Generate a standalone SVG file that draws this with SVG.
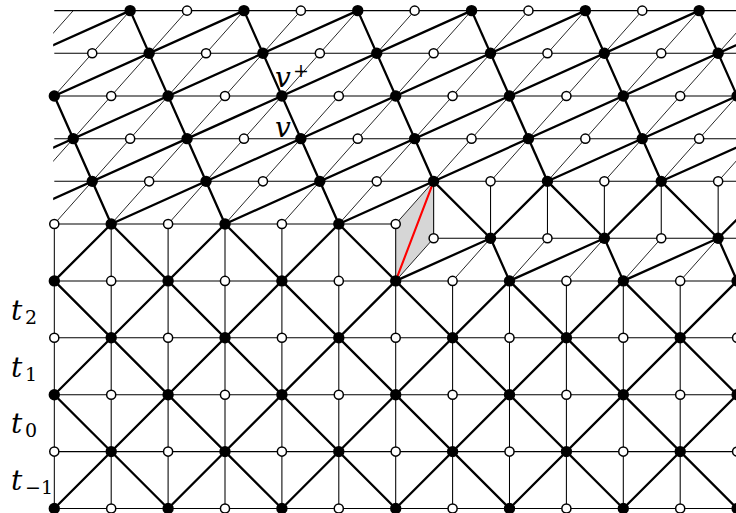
<svg xmlns="http://www.w3.org/2000/svg" width="736" height="513" viewBox="0 0 736 513">
<style>
.t{stroke:#000;stroke-width:1.05;vector-effect:non-scaling-stroke;fill:none}
.d{stroke:#000;stroke-width:0.85;vector-effect:non-scaling-stroke}
.k{stroke:#000;stroke-width:2.3;vector-effect:non-scaling-stroke;stroke-linecap:round}
.r{stroke:#f00;stroke-width:2.1;vector-effect:non-scaling-stroke;stroke-linecap:round}
.f{fill:#000}
.o{fill:#fff;stroke:#000;stroke-width:1.5;vector-effect:non-scaling-stroke}
text{font-family:"DejaVu Serif","Liberation Serif",serif;fill:#000}
.lab{font-size:28px;font-style:italic}
.sub{font-size:19px;font-style:normal}
</style>
<defs>
<clipPath id="cp" clipPathUnits="userSpaceOnUse"><rect x="-0.02" y="-3.8" width="14" height="9"/></clipPath>
</defs>
<g transform="matrix(56.9 0 0 56.9 54.3 224)">
<polygon id="cell" points="6,0 6.667,-0.75 6.667,0.25 6,1" fill="#d6d6d6"/>
<g id="connectors" clip-path="url(#cp)">
<line class="t" x1="0" y1="-3.75" x2="13" y2="-3.75"/>
<line class="t" x1="0" y1="-3" x2="13" y2="-3"/>
<line class="t" x1="0" y1="-2.25" x2="13" y2="-2.25"/>
<line class="t" x1="0" y1="-1.5" x2="13" y2="-1.5"/>
<line class="t" x1="0" y1="-0.75" x2="13" y2="-0.75"/>
<line class="t" x1="0" y1="0" x2="6" y2="0"/>
<line class="t" x1="6.667" y1="0.25" x2="13" y2="0.25"/>
<line class="t" x1="0" y1="1" x2="13" y2="1"/>
<line class="t" x1="0" y1="2" x2="13" y2="2"/>
<line class="t" x1="0" y1="3" x2="13" y2="3"/>
<line class="t" x1="0" y1="4" x2="13" y2="4"/>
<line class="t" x1="0" y1="5" x2="13" y2="5"/>
<line class="t" x1="0" y1="0" x2="0" y2="5"/>
<line class="t" x1="1" y1="0" x2="1" y2="5"/>
<line class="t" x1="2" y1="0" x2="2" y2="5"/>
<line class="t" x1="3" y1="0" x2="3" y2="5"/>
<line class="t" x1="4" y1="0" x2="4" y2="5"/>
<line class="t" x1="5" y1="0" x2="5" y2="5"/>
<line class="t" x1="6" y1="0" x2="6" y2="5"/>
<line class="t" x1="7" y1="1" x2="7" y2="5"/>
<line class="t" x1="8" y1="1" x2="8" y2="5"/>
<line class="t" x1="9" y1="1" x2="9" y2="5"/>
<line class="t" x1="10" y1="1" x2="10" y2="5"/>
<line class="t" x1="11" y1="1" x2="11" y2="5"/>
<line class="t" x1="12" y1="1" x2="12" y2="5"/>
<line class="t" x1="6.667" y1="-0.75" x2="6.667" y2="0.25"/>
<line class="t" x1="7.667" y1="-0.75" x2="7.667" y2="0.25"/>
<line class="t" x1="8.667" y1="-0.75" x2="8.667" y2="0.25"/>
<line class="t" x1="9.667" y1="-0.75" x2="9.667" y2="0.25"/>
<line class="t" x1="10.667" y1="-0.75" x2="10.667" y2="0.25"/>
<line class="t" x1="11.667" y1="-0.75" x2="11.667" y2="0.25"/>
<line class="d" x1="-3" y1="0" x2="0.333" y2="-3.75"/>
<line class="d" x1="-2" y1="0" x2="1.333" y2="-3.75"/>
<line class="d" x1="-1" y1="0" x2="2.333" y2="-3.75"/>
<line class="d" x1="0" y1="0" x2="3.333" y2="-3.75"/>
<line class="d" x1="1" y1="0" x2="4.333" y2="-3.75"/>
<line class="d" x1="2" y1="0" x2="5.333" y2="-3.75"/>
<line class="d" x1="3" y1="0" x2="6.333" y2="-3.75"/>
<line class="d" x1="4" y1="0" x2="7.333" y2="-3.75"/>
<line class="d" x1="5" y1="0" x2="8.333" y2="-3.75"/>
<line class="d" x1="6" y1="0" x2="9.333" y2="-3.75"/>
<line class="d" x1="7.667" y1="-0.75" x2="10.333" y2="-3.75"/>
<line class="d" x1="8.667" y1="-0.75" x2="11.333" y2="-3.75"/>
<line class="d" x1="9.667" y1="-0.75" x2="12.333" y2="-3.75"/>
<line class="d" x1="10.667" y1="-0.75" x2="13.333" y2="-3.75"/>
<line class="d" x1="11.667" y1="-0.75" x2="14.333" y2="-3.75"/>
<line class="d" x1="6" y1="1" x2="6.667" y2="0.25"/>
<line class="d" x1="7" y1="1" x2="7.667" y2="0.25"/>
<line class="d" x1="8" y1="1" x2="8.667" y2="0.25"/>
<line class="d" x1="9" y1="1" x2="9.667" y2="0.25"/>
<line class="d" x1="10" y1="1" x2="10.667" y2="0.25"/>
<line class="d" x1="11" y1="1" x2="11.667" y2="0.25"/>
<line class="d" x1="12" y1="1" x2="12.667" y2="0.25"/>
<line class="k" x1="0" y1="3" x2="2" y2="5"/>
<line class="k" x1="0" y1="1" x2="4" y2="5"/>
<line class="k" x1="1" y1="0" x2="6" y2="5"/>
<line class="k" x1="3" y1="0" x2="8" y2="5"/>
<line class="k" x1="5" y1="0" x2="10" y2="5"/>
<line class="k" x1="8" y1="1" x2="12" y2="5"/>
<line class="k" x1="10" y1="1" x2="14" y2="5"/>
<line class="k" x1="12" y1="1" x2="16" y2="5"/>
<line class="k" x1="0" y1="1" x2="1" y2="0"/>
<line class="k" x1="0" y1="3" x2="3" y2="0"/>
<line class="k" x1="0" y1="5" x2="5" y2="0"/>
<line class="k" x1="2" y1="5" x2="6" y2="1"/>
<line class="k" x1="4" y1="5" x2="8" y2="1"/>
<line class="k" x1="6" y1="5" x2="10" y2="1"/>
<line class="k" x1="8" y1="5" x2="12" y2="1"/>
<line class="k" x1="10" y1="5" x2="14" y2="1"/>
<line class="k" x1="12" y1="5" x2="16" y2="1"/>
<line class="k" x1="6.667" y1="-0.75" x2="7.667" y2="0.25"/>
<line class="k" x1="8.667" y1="-0.75" x2="7.667" y2="0.25"/>
<line class="k" x1="8.667" y1="-0.75" x2="9.667" y2="0.25"/>
<line class="k" x1="10.667" y1="-0.75" x2="9.667" y2="0.25"/>
<line class="k" x1="10.667" y1="-0.75" x2="11.667" y2="0.25"/>
<line class="k" x1="12.667" y1="-0.75" x2="11.667" y2="0.25"/>
<line class="k" x1="7.667" y1="0.25" x2="8" y2="1"/>
<line class="k" x1="9.667" y1="0.25" x2="10" y2="1"/>
<line class="k" x1="11.667" y1="0.25" x2="12" y2="1"/>
<line class="k" x1="6" y1="1" x2="7.667" y2="0.25"/>
<line class="k" x1="8" y1="1" x2="9.667" y2="0.25"/>
<line class="k" x1="10" y1="1" x2="11.667" y2="0.25"/>
<line class="k" x1="12" y1="1" x2="13.667" y2="0.25"/>
<line class="k" x1="-0.667" y1="-3.75" x2="1" y2="0"/>
<line class="k" x1="1.333" y1="-3.75" x2="3" y2="0"/>
<line class="k" x1="3.333" y1="-3.75" x2="5" y2="0"/>
<line class="k" x1="5.333" y1="-3.75" x2="6.667" y2="-0.75"/>
<line class="k" x1="7.333" y1="-3.75" x2="8.667" y2="-0.75"/>
<line class="k" x1="9.333" y1="-3.75" x2="10.667" y2="-0.75"/>
<line class="k" x1="11.333" y1="-3.75" x2="12.667" y2="-0.75"/>
<line class="k" x1="-7" y1="0" x2="1.333" y2="-3.75"/>
<line class="k" x1="-5" y1="0" x2="3.333" y2="-3.75"/>
<line class="k" x1="-3" y1="0" x2="5.333" y2="-3.75"/>
<line class="k" x1="-1" y1="0" x2="7.333" y2="-3.75"/>
<line class="k" x1="1" y1="0" x2="9.333" y2="-3.75"/>
<line class="k" x1="3" y1="0" x2="11.333" y2="-3.75"/>
<line class="k" x1="5" y1="0" x2="13.333" y2="-3.75"/>
<line class="k" x1="8.667" y1="-0.75" x2="15.333" y2="-3.75"/>
<line class="k" x1="10.667" y1="-0.75" x2="17.333" y2="-3.75"/>
<line id="red" class="r" x1="6" y1="1" x2="6.667" y2="-0.75"/>
</g>
<g id="nodes">
<g id="a1"><circle class="f" cx="1.333" cy="-3.75" r="0.1"/></g>
<g id="a2"><circle class="o" cx="2.333" cy="-3.75" r="0.08"/></g>
<g id="a3"><circle class="f" cx="3.333" cy="-3.75" r="0.1"/></g>
<g id="a4"><circle class="o" cx="4.333" cy="-3.75" r="0.08"/></g>
<g id="a5"><circle class="f" cx="5.333" cy="-3.75" r="0.1"/></g>
<g id="a6"><circle class="o" cx="6.333" cy="-3.75" r="0.08"/></g>
<g id="a7"><circle class="f" cx="7.333" cy="-3.75" r="0.1"/></g>
<g id="a8"><circle class="o" cx="8.333" cy="-3.75" r="0.08"/></g>
<g id="a9"><circle class="f" cx="9.333" cy="-3.75" r="0.1"/></g>
<g id="a10"><circle class="o" cx="10.333" cy="-3.75" r="0.08"/></g>
<g id="a11"><circle class="f" cx="11.333" cy="-3.75" r="0.1"/></g>
<g id="b1"><circle class="o" cx="0.667" cy="-3" r="0.08"/></g>
<g id="b2"><circle class="f" cx="1.667" cy="-3" r="0.1"/></g>
<g id="b3"><circle class="o" cx="2.667" cy="-3" r="0.08"/></g>
<g id="b4"><circle class="f" cx="3.667" cy="-3" r="0.1"/></g>
<g id="b5"><circle class="o" cx="4.667" cy="-3" r="0.08"/></g>
<g id="b6"><circle class="f" cx="5.667" cy="-3" r="0.1"/></g>
<g id="b7"><circle class="o" cx="6.667" cy="-3" r="0.08"/></g>
<g id="b8"><circle class="f" cx="7.667" cy="-3" r="0.1"/></g>
<g id="b9"><circle class="o" cx="8.667" cy="-3" r="0.08"/></g>
<g id="b10"><circle class="f" cx="9.667" cy="-3" r="0.1"/></g>
<g id="b11"><circle class="o" cx="10.667" cy="-3" r="0.08"/></g>
<g id="b12"><circle class="f" cx="11.667" cy="-3" r="0.1"/></g>
<g id="c0"><circle class="f" cx="0" cy="-2.25" r="0.1"/></g>
<g id="c1"><circle class="o" cx="1" cy="-2.25" r="0.08"/></g>
<g id="c2"><circle class="f" cx="2" cy="-2.25" r="0.1"/></g>
<g id="c3"><circle class="o" cx="3" cy="-2.25" r="0.08"/></g>
<g id="vplus"><circle class="f" cx="4" cy="-2.25" r="0.1"/></g>
<g id="c5"><circle class="o" cx="5" cy="-2.25" r="0.08"/></g>
<g id="c6"><circle class="f" cx="6" cy="-2.25" r="0.1"/></g>
<g id="c7"><circle class="o" cx="7" cy="-2.25" r="0.08"/></g>
<g id="c8"><circle class="f" cx="8" cy="-2.25" r="0.1"/></g>
<g id="c9"><circle class="o" cx="9" cy="-2.25" r="0.08"/></g>
<g id="c10"><circle class="f" cx="10" cy="-2.25" r="0.1"/></g>
<g id="c11"><circle class="o" cx="11" cy="-2.25" r="0.08"/></g>
<g id="c12"><circle class="f" cx="12" cy="-2.25" r="0.1"/></g>
<g id="d1"><circle class="f" cx="0.333" cy="-1.5" r="0.1"/></g>
<g id="d2"><circle class="o" cx="1.333" cy="-1.5" r="0.08"/></g>
<g id="d3"><circle class="f" cx="2.333" cy="-1.5" r="0.1"/></g>
<g id="d4"><circle class="o" cx="3.333" cy="-1.5" r="0.08"/></g>
<g id="v"><circle class="f" cx="4.333" cy="-1.5" r="0.1"/></g>
<g id="d6"><circle class="o" cx="5.333" cy="-1.5" r="0.08"/></g>
<g id="d7"><circle class="f" cx="6.333" cy="-1.5" r="0.1"/></g>
<g id="d8"><circle class="o" cx="7.333" cy="-1.5" r="0.08"/></g>
<g id="d9"><circle class="f" cx="8.333" cy="-1.5" r="0.1"/></g>
<g id="d10"><circle class="o" cx="9.333" cy="-1.5" r="0.08"/></g>
<g id="d11"><circle class="f" cx="10.333" cy="-1.5" r="0.1"/></g>
<g id="d12"><circle class="o" cx="11.333" cy="-1.5" r="0.08"/></g>
<g id="e1"><circle class="f" cx="0.667" cy="-0.75" r="0.1"/></g>
<g id="e2"><circle class="o" cx="1.667" cy="-0.75" r="0.08"/></g>
<g id="e3"><circle class="f" cx="2.667" cy="-0.75" r="0.1"/></g>
<g id="e4"><circle class="o" cx="3.667" cy="-0.75" r="0.08"/></g>
<g id="e5"><circle class="f" cx="4.667" cy="-0.75" r="0.1"/></g>
<g id="e6"><circle class="o" cx="5.667" cy="-0.75" r="0.08"/></g>
<g id="e7"><circle class="f" cx="6.667" cy="-0.75" r="0.1"/></g>
<g id="e8"><circle class="o" cx="7.667" cy="-0.75" r="0.08"/></g>
<g id="e9"><circle class="f" cx="8.667" cy="-0.75" r="0.1"/></g>
<g id="e10"><circle class="o" cx="9.667" cy="-0.75" r="0.08"/></g>
<g id="e11"><circle class="f" cx="10.667" cy="-0.75" r="0.1"/></g>
<g id="e12"><circle class="o" cx="11.667" cy="-0.75" r="0.08"/></g>
<g id="f0"><circle class="o" cx="0" cy="0" r="0.08"/></g>
<g id="f1"><circle class="f" cx="1" cy="0" r="0.1"/></g>
<g id="f2"><circle class="o" cx="2" cy="0" r="0.08"/></g>
<g id="f3"><circle class="f" cx="3" cy="0" r="0.1"/></g>
<g id="f4"><circle class="o" cx="4" cy="0" r="0.08"/></g>
<g id="f5"><circle class="f" cx="5" cy="0" r="0.1"/></g>
<g id="f6"><circle class="o" cx="6" cy="0" r="0.08"/></g>
<g id="g1"><circle class="o" cx="6.667" cy="0.25" r="0.08"/></g>
<g id="g2"><circle class="f" cx="7.667" cy="0.25" r="0.1"/></g>
<g id="g3"><circle class="o" cx="8.667" cy="0.25" r="0.08"/></g>
<g id="g4"><circle class="f" cx="9.667" cy="0.25" r="0.1"/></g>
<g id="g5"><circle class="o" cx="10.667" cy="0.25" r="0.08"/></g>
<g id="g6"><circle class="f" cx="11.667" cy="0.25" r="0.1"/></g>
<g id="h0"><circle class="f" cx="0" cy="1" r="0.1"/></g>
<g id="h1"><circle class="o" cx="1" cy="1" r="0.08"/></g>
<g id="h2"><circle class="f" cx="2" cy="1" r="0.1"/></g>
<g id="h3"><circle class="o" cx="3" cy="1" r="0.08"/></g>
<g id="h4"><circle class="f" cx="4" cy="1" r="0.1"/></g>
<g id="h5"><circle class="o" cx="5" cy="1" r="0.08"/></g>
<g id="h6"><circle class="f" cx="6" cy="1" r="0.1"/></g>
<g id="h7"><circle class="o" cx="7" cy="1" r="0.08"/></g>
<g id="h8"><circle class="f" cx="8" cy="1" r="0.1"/></g>
<g id="h9"><circle class="o" cx="9" cy="1" r="0.08"/></g>
<g id="h10"><circle class="f" cx="10" cy="1" r="0.1"/></g>
<g id="h11"><circle class="o" cx="11" cy="1" r="0.08"/></g>
<g id="h12"><circle class="f" cx="12" cy="1" r="0.1"/></g>
<g id="i0"><circle class="o" cx="0" cy="2" r="0.08"/></g>
<g id="i1"><circle class="f" cx="1" cy="2" r="0.1"/></g>
<g id="i2"><circle class="o" cx="2" cy="2" r="0.08"/></g>
<g id="i3"><circle class="f" cx="3" cy="2" r="0.1"/></g>
<g id="i4"><circle class="o" cx="4" cy="2" r="0.08"/></g>
<g id="i5"><circle class="f" cx="5" cy="2" r="0.1"/></g>
<g id="i6"><circle class="o" cx="6" cy="2" r="0.08"/></g>
<g id="i7"><circle class="f" cx="7" cy="2" r="0.1"/></g>
<g id="i8"><circle class="o" cx="8" cy="2" r="0.08"/></g>
<g id="i9"><circle class="f" cx="9" cy="2" r="0.1"/></g>
<g id="i10"><circle class="o" cx="10" cy="2" r="0.08"/></g>
<g id="i11"><circle class="f" cx="11" cy="2" r="0.1"/></g>
<g id="i12"><circle class="o" cx="12" cy="2" r="0.08"/></g>
<g id="j0"><circle class="f" cx="0" cy="3" r="0.1"/></g>
<g id="j1"><circle class="o" cx="1" cy="3" r="0.08"/></g>
<g id="j2"><circle class="f" cx="2" cy="3" r="0.1"/></g>
<g id="j3"><circle class="o" cx="3" cy="3" r="0.08"/></g>
<g id="j4"><circle class="f" cx="4" cy="3" r="0.1"/></g>
<g id="j5"><circle class="o" cx="5" cy="3" r="0.08"/></g>
<g id="j6"><circle class="f" cx="6" cy="3" r="0.1"/></g>
<g id="j7"><circle class="o" cx="7" cy="3" r="0.08"/></g>
<g id="j8"><circle class="f" cx="8" cy="3" r="0.1"/></g>
<g id="j9"><circle class="o" cx="9" cy="3" r="0.08"/></g>
<g id="j10"><circle class="f" cx="10" cy="3" r="0.1"/></g>
<g id="j11"><circle class="o" cx="11" cy="3" r="0.08"/></g>
<g id="j12"><circle class="f" cx="12" cy="3" r="0.1"/></g>
<g id="k0"><circle class="o" cx="0" cy="4" r="0.08"/></g>
<g id="k1"><circle class="f" cx="1" cy="4" r="0.1"/></g>
<g id="k2"><circle class="o" cx="2" cy="4" r="0.08"/></g>
<g id="k3"><circle class="f" cx="3" cy="4" r="0.1"/></g>
<g id="k4"><circle class="o" cx="4" cy="4" r="0.08"/></g>
<g id="k5"><circle class="f" cx="5" cy="4" r="0.1"/></g>
<g id="k6"><circle class="o" cx="6" cy="4" r="0.08"/></g>
<g id="k7"><circle class="f" cx="7" cy="4" r="0.1"/></g>
<g id="k8"><circle class="o" cx="8" cy="4" r="0.08"/></g>
<g id="k9"><circle class="f" cx="9" cy="4" r="0.1"/></g>
<g id="k10"><circle class="o" cx="10" cy="4" r="0.08"/></g>
<g id="k11"><circle class="f" cx="11" cy="4" r="0.1"/></g>
<g id="k12"><circle class="o" cx="12" cy="4" r="0.08"/></g>
<g id="l0"><circle class="f" cx="0" cy="5" r="0.1"/></g>
<g id="l1"><circle class="o" cx="1" cy="5" r="0.08"/></g>
<g id="l2"><circle class="f" cx="2" cy="5" r="0.1"/></g>
<g id="l3"><circle class="o" cx="3" cy="5" r="0.08"/></g>
<g id="l4"><circle class="f" cx="4" cy="5" r="0.1"/></g>
<g id="l5"><circle class="o" cx="5" cy="5" r="0.08"/></g>
<g id="l6"><circle class="f" cx="6" cy="5" r="0.1"/></g>
<g id="l7"><circle class="o" cx="7" cy="5" r="0.08"/></g>
<g id="l8"><circle class="f" cx="8" cy="5" r="0.1"/></g>
<g id="l9"><circle class="o" cx="9" cy="5" r="0.08"/></g>
<g id="l10"><circle class="f" cx="10" cy="5" r="0.1"/></g>
<g id="l11"><circle class="o" cx="11" cy="5" r="0.08"/></g>
<g id="l12"><circle class="f" cx="12" cy="5" r="0.1"/></g>
</g>
</g>
<g id="labels">
<text class="lab" x="275" y="87">v<tspan class="sub" x="293" y="77">+</tspan></text>
<text class="lab" x="275" y="137">v</text>
<text class="lab" x="11" y="320">t<tspan class="sub" x="25" y="324">2</tspan></text>
<text class="lab" x="11" y="377">t<tspan class="sub" x="25" y="381">1</tspan></text>
<text class="lab" x="11" y="433">t<tspan class="sub" x="25" y="437">0</tspan></text>
<text class="lab" x="11" y="490">t<tspan class="sub" x="25" y="494">−1</tspan></text>
</g>
</svg>
